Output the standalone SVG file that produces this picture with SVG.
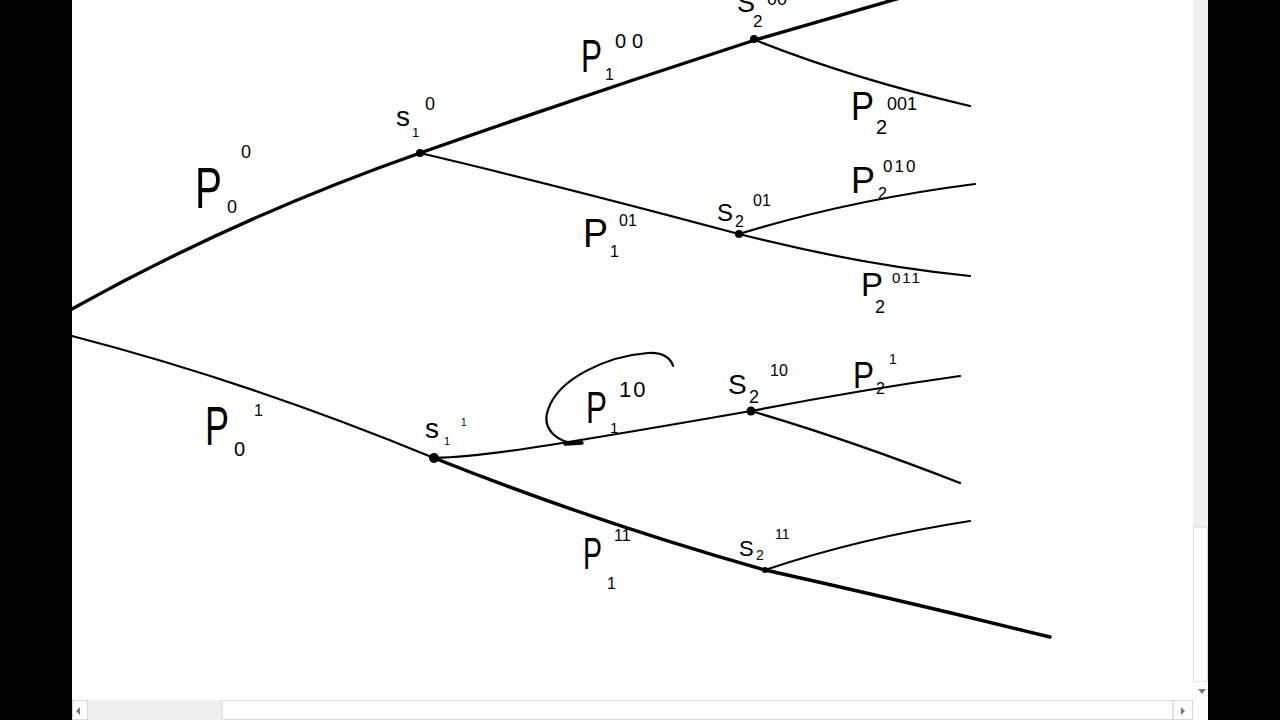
<svg xmlns="http://www.w3.org/2000/svg" width="1280" height="720" viewBox="0 0 1280 720">
<style>
.thick{fill:none;stroke:#000;stroke-width:3.4;stroke-linecap:round;stroke-linejoin:round}
.thin{fill:none;stroke:#000;stroke-width:2.2;stroke-linecap:round;stroke-linejoin:round}
text{font-family:"Liberation Sans","DejaVu Sans",sans-serif;fill:#000}
.dot{fill:#000}
.sb{fill:#f0f0f0}
.thumb{fill:#fff;stroke:#d9d9d9;stroke-width:1}
.arr{fill:#777}
</style>
<rect x="0" y="0" width="1280" height="720" fill="#fff"/>
<rect x="0" y="0" width="72" height="720" fill="#000"/>
<rect x="1208" y="0" width="72" height="720" fill="#000"/>

<g id="connectors">
<path class="thick" d="M72,309 Q235,218 420,153"/>
<path class="thick" d="M420,153 Q585,95 755,40 L900,-2"/>
<path class="thin" d="M420,153 Q560,186 739,234"/>
<path class="thin" d="M755,40 Q850,78 970,106"/>
<path class="thin" d="M739,234 Q850,200 975,184"/>
<path class="thin" d="M739,234 Q860,265 970,276"/>
<path class="thin" d="M72,336 Q250,382 434,458"/>
<path class="thick" d="M434,458 Q595,522 765,570"/>
<path class="thick" d="M765,570 Q900,600 1050,637"/>
<path class="thin" d="M765,570 Q860,538 970,521"/>
<path class="thin" d="M434,458 Q470,457 530,448 Q590,439 751,411"/>
<path class="thin" d="M751,411 Q860,390 960,376"/>
<path class="thin" d="M751,411 Q850,440 960,483"/>
<path class="thin" d="M582,442 C560,446 541,430 548,410 C558,378 608,356 648,353 C664,352 671,359 673,366"/>
<path class="thick" d="M565,444 L582,443"/>
</g>

<g id="node-P0-0"><text x="195" y="208" font-size="58" textLength="27" lengthAdjust="spacingAndGlyphs">P</text><text x="227" y="213" font-size="18">0</text><text x="241" y="158" font-size="18">0</text></g>
<g id="node-s1-0"><circle class="dot" cx="420" cy="153" r="4"/><text x="396" y="126" font-size="28">s</text><text x="412" y="137" font-size="13">1</text><text x="425" y="110" font-size="18">0</text></g>
<g id="node-P1-00"><text x="581" y="72" font-size="46" textLength="21" lengthAdjust="spacingAndGlyphs">P</text><text x="605" y="80" font-size="16">1</text><text x="615" y="48" font-size="20" letter-spacing="6">00</text></g>
<g id="node-s2-00"><circle class="dot" cx="754" cy="39" r="4"/><text x="737" y="12" font-size="27">S</text><text x="753" y="27" font-size="17">2</text><text x="767" y="5" font-size="18">00</text></g>
<g id="node-P2-001"><text x="851" y="120" font-size="40" textLength="23" lengthAdjust="spacingAndGlyphs">P</text><text x="876" y="134" font-size="20">2</text><text x="887" y="110" font-size="18">001</text></g>
<g id="node-P1-01"><text x="583" y="247" font-size="40" textLength="25" lengthAdjust="spacingAndGlyphs">P</text><text x="610" y="257" font-size="16">1</text><text x="619" y="226" font-size="16">01</text></g>
<g id="node-s2-01"><circle class="dot" cx="739" cy="234" r="4"/><text x="717" y="221" font-size="24">S</text><text x="735" y="227" font-size="16">2</text><text x="753" y="206" font-size="16">01</text></g>
<g id="node-P2-010"><text x="851" y="193" font-size="36" textLength="24" lengthAdjust="spacingAndGlyphs">P</text><text x="878" y="199" font-size="16">2</text><text x="883" y="172" font-size="17" letter-spacing="2">010</text></g>
<g id="node-P2-011"><text x="861" y="296" font-size="34" textLength="22" lengthAdjust="spacingAndGlyphs">P</text><text x="875" y="313" font-size="18">2</text><text x="892" y="283" font-size="15" letter-spacing="2">011</text></g>
<g id="node-P0-1"><text x="205" y="445" font-size="55" textLength="24" lengthAdjust="spacingAndGlyphs">P</text><text x="234" y="456" font-size="20">0</text><text x="254" y="416" font-size="16">1</text></g>
<g id="node-s1-1"><circle class="dot" cx="434" cy="458" r="5"/><text x="425" y="438" font-size="28">s</text><text x="444" y="445" font-size="11">1</text><text x="461" y="426" font-size="10">1</text></g>
<g id="node-P1-10"><text x="586" y="423" font-size="44" textLength="21" lengthAdjust="spacingAndGlyphs">P</text><text x="610" y="433" font-size="15">1</text><text x="619" y="397" font-size="22" letter-spacing="2">10</text></g>
<g id="node-s2-10"><circle class="dot" cx="751" cy="411" r="4.5"/><text x="728" y="394" font-size="28">S</text><text x="749" y="403" font-size="18">2</text><text x="770" y="376" font-size="16">10</text></g>
<g id="node-P2-1"><text x="853" y="388" font-size="36" textLength="21" lengthAdjust="spacingAndGlyphs">P</text><text x="876" y="394" font-size="16">2</text><text x="889" y="364" font-size="14">1</text></g>
<g id="node-P1-11"><text x="583" y="569" font-size="44" textLength="19" lengthAdjust="spacingAndGlyphs">P</text><text x="607" y="589" font-size="16">1</text><text x="614" y="541" font-size="16">11</text></g>
<g id="node-s2-11"><circle class="dot" cx="765" cy="570" r="3"/><text x="739" y="556" font-size="22">S</text><text x="756" y="560" font-size="14">2</text><text x="775" y="539" font-size="14">11</text></g>

<g id="scrollbars">
<rect class="sb" x="1193" y="0" width="15" height="700"/>
<rect class="thumb" x="1193.5" y="527" width="14" height="155"/>
<rect x="1193" y="682" width="15" height="18" fill="#fff"/>
<path class="arr" d="M1198,689 L1206,689 L1202,694 Z"/>
<rect class="sb" x="72" y="700" width="1121" height="20"/>
<rect class="thumb" x="222" y="700.5" width="951" height="19"/>
<rect x="72.5" y="700.5" width="15" height="19" fill="#fff" stroke="#d9d9d9"/>
<path class="arr" d="M80,707 L80,715 L76,711 Z"/>
<rect x="1173.5" y="700.5" width="19" height="19" fill="#fff" stroke="#d9d9d9"/>
<path class="arr" d="M1181,707 L1181,715 L1185,711 Z"/>
<rect x="1193" y="700" width="15" height="20" fill="#fff"/>
</g>
</svg>
